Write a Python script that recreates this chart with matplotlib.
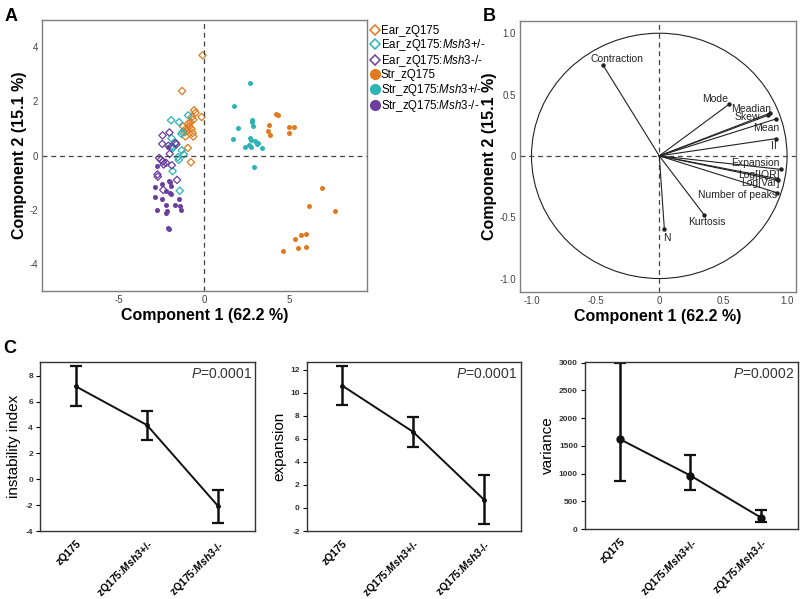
import matplotlib
matplotlib.use("Agg")
import matplotlib.pyplot as plt
import numpy as np
from matplotlib.lines import Line2D
from matplotlib.patches import Ellipse

plt.rcParams['font.family'] = ['Liberation Sans', 'DejaVu Sans']
plt.rcParams['mathtext.fontset'] = 'custom'
plt.rcParams['mathtext.rm'] = 'Liberation Sans'
plt.rcParams['mathtext.it'] = 'Liberation Sans:italic'
plt.rcParams['mathtext.bf'] = 'Liberation Sans:bold'
plt.rcParams['mathtext.bfit'] = 'Liberation Sans:bold:italic'
plt.rcParams['axes.unicode_minus'] = False

ORANGE = '#E07A1F'
TEAL = '#2DB4B4'
PURPLE = '#6A3F9E'

# ---------------- Panel A data ----------------
ear_zq_x = [-0.08, -1.29, -0.58, -0.50, -0.14, -0.71, -0.63, -0.79, -0.93, -1.23, -1.03, -0.87, -0.73, -1.13, -0.67, -0.63, -1.09, -0.95, -0.77, -0.99]
ear_zq_y = [3.70, 2.38, 1.67, 1.58, 1.42, 1.42, 1.32, 1.23, 1.17, 1.07, 1.01, 1.07, 0.98, 0.86, 0.83, 0.70, 0.70, 0.28, -0.25, 0.90]
ear_het_x = [-1.94, -1.47, -0.93, -1.27, -1.33, -1.92, -1.67, -1.94, -1.87, -1.31, -1.19, -1.49, -1.53, -1.85, -1.43, -1.83]
ear_het_y = [1.30, 1.23, 1.48, 0.86, 0.80, 0.64, 0.46, 0.33, 0.26, 0.19, 0.04, -0.16, -0.06, -0.58, -1.30, 0.31]
ear_ko_x = [-2.44, -2.04, -2.46, -1.69, -1.63, -2.02, -2.64, -2.54, -2.42, -2.24, -2.38, -1.90, -2.74, -2.72, -1.59, -2.40, -2.10]
ear_ko_y = [0.74, 0.85, 0.43, 0.46, 0.41, 0.06, -0.09, -0.16, -0.22, -0.27, -0.33, -0.36, -0.70, -0.78, -0.90, -1.27, 0.36]
str_zq_x = [4.25, 4.37, 3.86, 3.80, 3.92, 5.04, 5.29, 5.02, 6.96, 6.18, 7.75, 5.37, 5.71, 6.04, 4.67, 5.57, 6.00]
str_zq_y = [1.54, 1.49, 1.12, 0.89, 0.77, 1.05, 1.07, 0.84, -1.20, -1.86, -2.06, -3.07, -2.94, -2.90, -3.52, -3.42, -3.38]
str_het_x = [2.71, 1.78, 2.02, 2.82, 2.86, 2.90, 1.69, 2.69, 2.75, 3.00, 3.20, 2.63, 2.39, 2.80, 3.43, 2.92, 3.12]
str_het_y = [2.68, 1.84, 1.01, 1.32, 1.22, 1.10, 0.60, 0.64, 0.58, 0.53, 0.46, 0.38, 0.31, 0.31, 0.26, -0.44, 0.43]
str_ko_x = [-2.78, -2.12, -2.46, -2.06, -1.98, -1.94, -2.86, -2.22, -2.02, -1.94, -2.90, -2.50, -1.49, -2.22, -1.69, -1.39, -2.78, -2.20, -2.22, -1.33, -2.12, -2.06]
str_ko_y = [-0.40, 0.31, -1.05, -0.93, -0.99, -1.12, -1.15, -1.32, -1.37, -1.43, -1.54, -1.59, -1.62, -1.81, -1.81, -1.88, -2.00, -2.06, -2.14, -2.00, -2.68, -2.70]

legend_labels = ['Ear_zQ175', r'Ear_zQ175:$\it{Msh3}$+/-', r'Ear_zQ175:$\it{Msh3}$-/-',
                 'Str_zQ175', r'Str_zQ175:$\it{Msh3}$+/-', r'Str_zQ175:$\it{Msh3}$-/-']

# ---------------- Panel B data ----------------
var_names = ['Contraction', 'Mode', 'Meadian', 'Skew', 'Mean', 'II', 'Expansion',
             'Log[IQR]', 'Log[Var]', 'Number of peaks', 'Kurtosis', 'N']
load_x = [-0.44, 0.545, 0.87, 0.85, 0.91, 0.91, 0.95, 0.92, 0.93, 0.92, 0.35, 0.04]
load_y = [0.74, 0.42, 0.35, 0.33, 0.30, 0.14, -0.11, -0.185, -0.20, -0.30, -0.48, -0.60]
# label anchor positions (annotation layout)
lab_x = [-0.33, 0.44, 0.72, 0.69, 0.84, 0.90, 0.75, 0.78, 0.79, 0.61, 0.37, 0.06]
lab_y = [0.79, 0.465, 0.385, 0.32, 0.23, 0.08, -0.06, -0.155, -0.225, -0.32, -0.54, -0.67]

# ---------------- Panel C data ----------------
groups = ['zQ175', r'zQ175:$\mathbfit{Msh3}$+/-', r'zQ175:$\mathbfit{Msh3}$-/-']
ii_mean = [7.18, 4.19, -2.08]
ii_low = [5.65, 3.04, -3.36]
ii_high = [8.72, 5.29, -0.80]
exp_mean = [10.62, 6.61, 0.73]
exp_low = [8.95, 5.31, -1.37]
exp_high = [12.35, 7.91, 2.84]
var_mean = [1620, 966, 210]
var_low = [876, 708, 126]
var_high = [2988, 1332, 342]
pvals = ['0.0001', '0.0001', '0.0002']

fig = plt.figure(figsize=(8, 5.99), dpi=100)

SPINE = '#7f7f7f'
TICKC = '#444444'

def style_axes(ax):
    for s in ax.spines.values():
        s.set_color(SPINE)
        s.set_linewidth(1.0)

# ---- Panel A ----
axA = fig.add_axes([0.0525, 0.5142, 0.406, 0.4524])
style_axes(axA)
dms = 14
cms = 13
axA.scatter(ear_zq_x, ear_zq_y, marker='D', s=dms, facecolors='none', edgecolors=ORANGE, linewidths=0.9)
axA.scatter(ear_het_x, ear_het_y, marker='D', s=dms, facecolors='none', edgecolors=TEAL, linewidths=0.9)
axA.scatter(ear_ko_x, ear_ko_y, marker='D', s=dms, facecolors='none', edgecolors=PURPLE, linewidths=0.9)
axA.scatter(str_zq_x, str_zq_y, marker='o', s=cms, color=ORANGE, linewidths=0)
axA.scatter(str_het_x, str_het_y, marker='o', s=cms, color=TEAL, linewidths=0)
axA.scatter(str_ko_x, str_ko_y, marker='o', s=cms, color=PURPLE, linewidths=0)
axA.axhline(0, color='#444444', ls=(0, (4, 3)), lw=0.9)
axA.axvline(0, color='#444444', ls=(0, (4, 3)), lw=0.9)
axA.set_xlim(-9.55, 9.6)
axA.set_ylim(-5.0, 5.0)
axA.set_xticks([-5, 0, 5])
axA.set_yticks([-4, -2, 0, 2, 4])
axA.tick_params(length=0, labelsize=7, labelcolor=TICKC, pad=3)
axA.set_xlabel('Component 1 (62.2 %)', fontsize=11.5, fontweight='bold', labelpad=2)
axA.set_ylabel('Component 2 (15.1 %)', fontsize=11.5, fontweight='bold')
axA.yaxis.set_label_coords(-0.045, 0.5)

handles = [
    Line2D([], [], marker='D', ls='none', mfc='none', mec=ORANGE, ms=5.5, mew=1.1),
    Line2D([], [], marker='D', ls='none', mfc='none', mec=TEAL, ms=5.5, mew=1.1),
    Line2D([], [], marker='D', ls='none', mfc='none', mec=PURPLE, ms=5.5, mew=1.1),
    Line2D([], [], marker='o', ls='none', color=ORANGE, ms=7),
    Line2D([], [], marker='o', ls='none', color=TEAL, ms=7),
    Line2D([], [], marker='o', ls='none', color=PURPLE, ms=7),
]
axA.legend(handles, legend_labels, loc='upper left', bbox_to_anchor=(1.0, 1.0),
           frameon=False, fontsize=8.3, handlelength=0.7, handletextpad=0.1,
           labelspacing=0.02, borderpad=0.2, borderaxespad=0.2)

# ---- Panel B ----
axB = fig.add_axes([0.65, 0.5125, 0.345, 0.4525])
style_axes(axB)
axB.add_patch(Ellipse((0, 0), 2, 2, fill=False, color='#222222', lw=0.8))
axB.axhline(0, color='#444444', ls=(0, (4, 3)), lw=0.9)
axB.axvline(0, color='#444444', ls=(0, (4, 3)), lw=0.9)
for i, name in enumerate(var_names):
    axB.plot([0, load_x[i]], [0, load_y[i]], color='#222222', lw=0.8)
    axB.plot(load_x[i], load_y[i], 'o', color='#222222', ms=2.2)
    axB.text(lab_x[i], lab_y[i], name, fontsize=7.5, ha='center', va='center', color='#222222')
axB.set_xlim(-1.09, 1.07)
axB.set_ylim(-1.11, 1.10)
axB.set_xticks([-1.0, -0.5, 0, 0.5, 1.0])
axB.set_xticklabels(['-1.0', '-0.5', '0', '0.5', '1.0'])
axB.set_yticks([-1.0, -0.5, 0, 0.5, 1.0])
axB.set_yticklabels(['-1.0', '-0.5', '0', '0.5', '1.0'])
axB.tick_params(length=0, labelsize=7, labelcolor=TICKC, pad=3)
axB.set_xlabel('Component 1 (62.2 %)', fontsize=11.5, fontweight='bold', labelpad=2)
axB.set_ylabel('Component 2 (15.1 %)', fontsize=11.5, fontweight='bold')
axB.yaxis.set_label_coords(-0.082, 0.5)

# ---- Panel C ----
def panelC(rect, means, lows, highs, ylabel, ylim, yticks, pval, msize):
    ax = fig.add_axes(rect)
    for s in ax.spines.values():
        s.set_color('#333333')
        s.set_linewidth(1.0)
    x = np.arange(len(means))
    m = np.array(means)
    yerr = [m - np.array(lows), np.array(highs) - m]
    ax.errorbar(x, m, yerr=yerr, color='#111111', lw=1.4, elinewidth=1.8, capsize=4.6,
                capthick=1.6, marker='o', ms=msize)
    ax.set_xlim(-0.5, 2.52)
    ax.set_ylim(*ylim)
    ax.set_yticks(yticks)
    ax.set_xticks(x)
    ax.set_xticklabels(groups, rotation=45, ha='right', rotation_mode='anchor',
                       fontsize=7.5, fontweight='bold')
    ax.tick_params(axis='y', labelsize=6, length=3, width=0.8, pad=2)
    ax.tick_params(axis='x', length=0, pad=5)
    for t in ax.get_yticklabels():
        t.set_fontweight('bold')
        t.set_color('#333333')
    ax.set_ylabel(ylabel, fontsize=11, labelpad=3)
    ax.text(0.985, 0.97, r'$\it{P}$=' + pval, transform=ax.transAxes, ha='right', va='top',
            fontsize=10, color='#333333')
    return ax

panelC([0.05, 0.1135, 0.269, 0.282], ii_mean, ii_low, ii_high, 'instability index',
       (-4, 9.05), [-4, -2, 0, 2, 4, 6, 8], pvals[0], 2.5)
panelC([0.3834, 0.1135, 0.2675, 0.282], exp_mean, exp_low, exp_high, 'expansion',
       (-2, 12.66), [-2, 0, 2, 4, 6, 8, 10, 12], pvals[1], 2.5)
panelC([0.731, 0.1164, 0.266, 0.28], var_mean, var_low, var_high, 'variance',
       (0, 3018), [0, 500, 1000, 1500, 2000, 2500, 3000], pvals[2], 5)

# panel letters
fig.text(0.006, 0.972, 'A', fontsize=13, fontweight='bold', va='center')
fig.text(0.603, 0.972, 'B', fontsize=13, fontweight='bold', va='center')
fig.text(0.004, 0.418, 'C', fontsize=13, fontweight='bold', va='center')

fig.savefig('out.png', dpi=100)
